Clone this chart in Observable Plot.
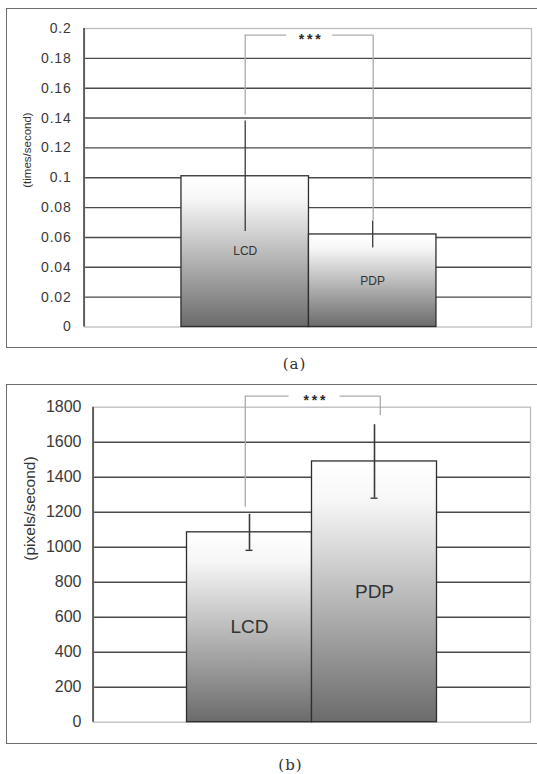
<!DOCTYPE html>
<html><head><meta charset="utf-8">
<script src="https://cdn.jsdelivr.net/npm/d3@7"></script>
<script src="https://cdn.jsdelivr.net/npm/@observablehq/plot@0.6"></script>
<style>
html,body{margin:0;padding:0;background:#fff;}
body{width:537px;height:774px;overflow:hidden;position:relative;}
.frame{position:absolute;border:1.4px solid #6e6e6e;border-right:none;box-sizing:border-box;}
.chart{position:absolute;left:0;}
.cap{position:absolute;font-family:'DejaVu Serif',serif;font-size:15px;letter-spacing:1px;color:#333;line-height:1;transform:translate(-50%,-50%);white-space:nowrap;}
#chartA [aria-label^="y-axis"] text{letter-spacing:0.8px;}
</style>
</head><body>
<svg width="0" height="0" style="position:absolute">
  <defs>
    <linearGradient id="barGrad" x1="0" y1="0" x2="0" y2="1">
      <stop offset="0" stop-color="#ffffff"/>
      <stop offset="0.15" stop-color="#f7f7f7"/>
      <stop offset="1" stop-color="#6b6b6b"/>
    </linearGradient>
  </defs>
</svg>
<div class="frame" style="left:5.5px;top:7.5px;width:600px;height:340px;"></div>
<div class="frame" style="left:6px;top:383.6px;width:600px;height:360.4px;"></div>
<div id="chartA" class="chart" style="top:8px;"></div>
<div id="chartB" class="chart" style="top:384px;"></div>
<div class="cap" style="left:294.5px;top:364px;">(a)</div>
<div class="cap" style="left:290.5px;top:765px;">(b)</div>
<script>
// ---- data ----
const categories = ["LCD", "PDP"];

// panel (a): times/second
const valuesA = [0.101, 0.062];
const errorsA = [0.037, 0.009];
const ticksA = [0, 0.02, 0.04, 0.06, 0.08, 0.1, 0.12, 0.14, 0.16, 0.18, 0.2];
const tickLabelsA = ["0", "0.02", "0.04", "0.06", "0.08", "0.1", "0.12", "0.14", "0.16", "0.18", "0.2"];
const yLabelA = "(times/second)";
const bracketA = [0.1955, 0.1418, 0.0714]; // top, left leg bottom, right leg bottom

// panel (b): pixels/second
const valuesB = [1085, 1490];
const errorsB = [103, 210];
const ticksB = [0, 200, 400, 600, 800, 1000, 1200, 1400, 1600, 1800];
const tickLabelsB = ["0", "200", "400", "600", "800", "1000", "1200", "1400", "1600", "1800"];
const yLabelB = "(pixels/second)";
const bracketB = [1863, 1229, 1753];

const sigLabel = "*\u2009*\u2009*";

// ---- helpers ----
const rowsA = categories.map((c, i) => ({cat: c, value: valuesA[i], err: errorsA[i]}));
const rowsB = categories.map((c, i) => ({cat: c, value: valuesB[i], err: errorsB[i]}));

function leftAxisLine(color, w) {
  return (index, scales, values, dims) => {
    const ln = document.createElementNS("http://www.w3.org/2000/svg", "line");
    ln.setAttribute("x1", dims.marginLeft);
    ln.setAttribute("x2", dims.marginLeft);
    ln.setAttribute("y1", dims.marginTop);
    ln.setAttribute("y2", dims.height - dims.marginBottom);
    ln.setAttribute("stroke", color);
    ln.setAttribute("stroke-width", w);
    return ln;
  };
}

function panel(opts) {
  const {rows, ticks, labels, ymax, yLabel, bracket, W, H, mL, mR, mT, mB, po, align,
         tickFont, tickPad, barFont, labelFont, labelDx, labelDy, caps,
         legL, legR, gapShift, gapHalf, errW} = opts;
  const bw = (W - mL - mR) / (categories.length + 2 * po);
  const grid = ticks.filter(t => t > 0 && t < ymax);
  const top = bracket[0];
  const marks = [
    Plot.ruleY(grid, {stroke: "#4a4a4a", strokeWidth: 1.4}),
    Plot.frame({stroke: "#bdbdbd", strokeWidth: 1.3}),
    leftAxisLine("#333", 1.4),
    Plot.barY(rows, {x: "cat", y: "value", fill: "url(#barGrad)", stroke: "#2e2e2e", strokeWidth: 1.3}),
    Plot.ruleX(rows, {x: "cat", y1: d => d.value - d.err, y2: d => d.value + d.err, stroke: "#3a3a3a", strokeWidth: errW}),
    // significance bracket
    Plot.ruleX([categories[0]], {x: d => d, y1: bracket[1], y2: top, dx: legL, stroke: "#ababab", strokeWidth: 1.3}),
    Plot.ruleX([categories[1]], {x: d => d, y1: bracket[2], y2: top, dx: legR, stroke: "#ababab", strokeWidth: 1.3}),
    Plot.ruleY([top], {x1: () => categories[0], x2: () => categories[0], insetLeft: bw / 2 + legL, insetRight: gapHalf - gapShift, stroke: "#ababab", strokeWidth: 1.3}),
    Plot.ruleY([top], {x1: () => categories[1], x2: () => categories[1], insetLeft: gapShift + gapHalf, insetRight: bw / 2 - legR, stroke: "#ababab", strokeWidth: 1.3}),
    Plot.text([sigLabel], {x: () => categories[0], y: () => top, text: d => d, dx: bw / 2 + gapShift, dy: 4, fontSize: 14, fontWeight: "bold", fill: "#2a2a2a"}),
    Plot.text(rows, {x: "cat", y: d => d.value / 2, text: "cat", fontSize: barFont, fill: "#333"}),
    Plot.text([yLabel], {frameAnchor: "left", text: d => d, rotate: -90, dx: labelDx, dy: labelDy, fontSize: labelFont, fill: "#333"})
  ];
  if (caps) {
    marks.push(Plot.ruleY(rows, {x1: "cat", x2: "cat", y: d => d.value - d.err, insetLeft: (bw - 7) / 2, insetRight: (bw - 7) / 2, stroke: "#3a3a3a", strokeWidth: 1.4}));
  }
  return Plot.plot({
    width: W, height: H,
    marginLeft: mL, marginRight: mR, marginTop: mT, marginBottom: mB,
    style: {background: "transparent", fontFamily: "'Liberation Sans', Arial, sans-serif", fontSize: tickFont + "px", color: "#3a3a3a", overflow: "visible"},
    x: {domain: categories, paddingInner: 0, paddingOuter: po, align: align, round: false, axis: null},
    y: {domain: [0, ymax], ticks: ticks, tickFormat: d => labels[ticks.indexOf(d)], tickSize: 0, tickPadding: tickPad, label: null},
    marks
  });
}

document.getElementById("chartA").append(panel({
  rows: rowsA, ticks: ticksA, labels: tickLabelsA, ymax: 0.2, yLabel: yLabelA, bracket: bracketA,
  W: 537, H: 338, mL: 84, mR: 6, mT: 20, mB: 19.5, po: 0.753, align: 0.505,
  tickFont: 14, tickPad: 13, barFont: 12, labelFont: 11.5, labelDx: -57, labelDy: 10, caps: false,
  legL: 0, legR: 0.5, gapShift: 0.7, gapHalf: 23, errW: 1.3
}));

document.getElementById("chartB").append(panel({
  rows: rowsB, ticks: ticksB, labels: tickLabelsB, ymax: 1800, yLabel: yLabelB, bracket: bracketB,
  W: 537, H: 359, mL: 93, mR: 7, mT: 22.7, mB: 21.3, po: 0.748, align: 0.5,
  tickFont: 16, tickPad: 12, barFont: 19, labelFont: 15.5, labelDx: -63.5, labelDy: -4, caps: true,
  legL: -4.2, legR: 5.8, gapShift: 2.5, gapHalf: 25.5, errW: 1.6
}));
</script>
</body></html>
